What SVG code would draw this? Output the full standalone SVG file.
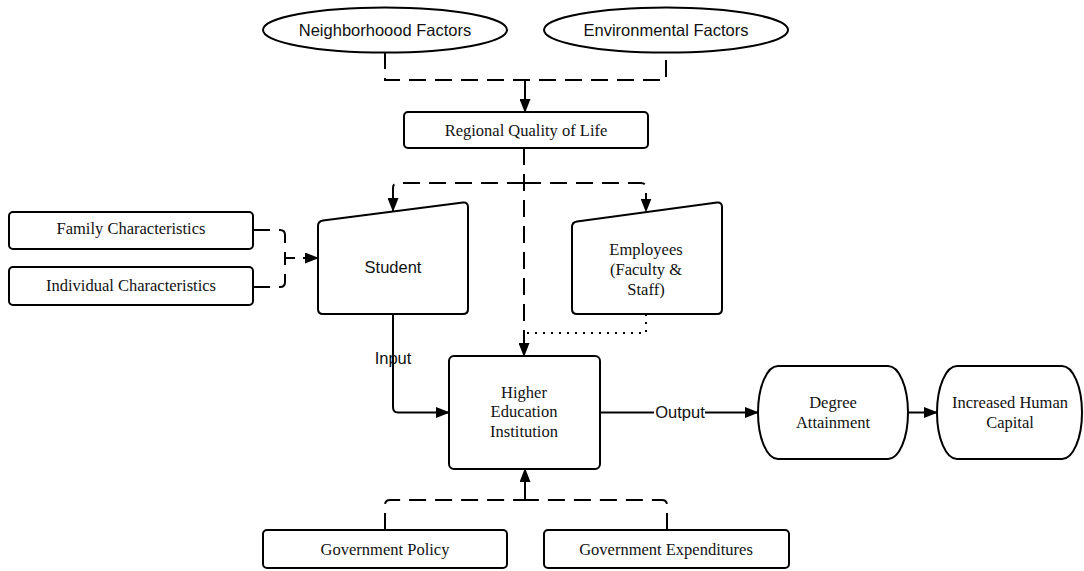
<svg xmlns="http://www.w3.org/2000/svg" width="1084" height="571" viewBox="0 0 1084 571">
<style>
.shape{fill:#fff;stroke:#000;stroke-width:2}
.sans{font-family:"Liberation Sans",Arial,sans-serif;font-size:16.5px;fill:#111;text-anchor:middle}
.serif{font-family:"Liberation Serif","Times New Roman",serif;font-size:16.5px;fill:#111;text-anchor:middle}
.ln{fill:none;stroke:#000;stroke-width:2}
.dash{stroke-dasharray:17 9}
.dot{stroke-dasharray:2 6}
</style>
<defs>
<marker id="arr" markerUnits="userSpaceOnUse" markerWidth="14" markerHeight="11" viewBox="0 0 14 11" refX="13" refY="5.5" orient="auto">
<path d="M0,0 L14,5.5 L0,11 Z" fill="#000"/>
</marker>
</defs>
<rect width="1084" height="571" fill="#fff"/>
<g id="connectors">
<path class="ln dash" d="M385,52 V80 H666 V52"/>
<path class="ln" d="M525,80 V112" marker-end="url(#arr)"/>
<path class="ln dash" d="M524,148 V356" marker-end="url(#arr)"/>
<path class="ln dash" d="M524,183 H398 Q393,183 393,188 V211" marker-end="url(#arr)"/>
<path class="ln dash" d="M524,183 H641 Q646,183 646,188 V211.5" marker-end="url(#arr)"/>
<path class="ln dash" d="M253,230 H280 Q285,230 285,235 V258"/>
<path class="ln dash" d="M253,287 H280 Q285,287 285,282 V258"/>
<path class="ln" style="stroke-dasharray:10 8" d="M285,258 H318" marker-end="url(#arr)"/>
<path class="ln" d="M393,314 V407 Q393,412.5 398,412.5 H449" marker-end="url(#arr)"/>
<path class="ln dot" d="M646,314 V333 H526"/>
<path class="ln" d="M600,412.5 H758" marker-end="url(#arr)"/>
<rect x="654" y="402" width="51" height="21" fill="#fff"/>
<text class="sans" x="680" y="418">Output</text>
<text class="sans" x="393" y="364">Input</text>
<path class="ln" d="M908,412.5 H937" marker-end="url(#arr)"/>
<path class="ln dash" d="M385,530 V505 Q385,500 390,500 H525"/>
<path class="ln dash" d="M667,530 V505 Q667,500 662,500 H525"/>
<path class="ln" d="M525,500 V469" marker-end="url(#arr)"/>
</g>
<g id="neighborhood">
<ellipse class="shape" cx="385" cy="30" rx="122" ry="22.5"/>
<text class="sans" x="385" y="36">Neighborhoood Factors</text>
</g>
<g id="environmental">
<ellipse class="shape" cx="666" cy="30" rx="122" ry="22.5"/>
<text class="sans" x="666" y="36">Environmental Factors</text>
</g>
<g id="regional">
<rect class="shape" x="404" y="112" width="244" height="36" rx="4"/>
<text class="serif" x="526" y="136">Regional Quality of Life</text>
</g>
<g id="family">
<rect class="shape" x="9" y="212" width="244" height="37" rx="4"/>
<text class="serif" x="131" y="234">Family Characteristics</text>
</g>
<g id="individual">
<rect class="shape" x="9" y="267" width="244" height="38" rx="4"/>
<text class="serif" x="131" y="291">Individual Characteristics</text>
</g>
<g id="student">
<path class="shape" d="M318,226 Q318,221 323,220.4 L463,202.6 Q468,202 468,207 V309 Q468,314 463,314 H323 Q318,314 318,309 Z"/>
<text class="sans" x="393" y="273">Student</text>
</g>
<g id="employees">
<path class="shape" d="M572,227 Q572,222 577,221.4 L717,202.6 Q722,202 722,207 V309 Q722,314 717,314 H577 Q572,314 572,309 Z"/>
<text class="serif" x="646" y="255">Employees</text>
<text class="serif" x="646" y="275">(Faculty &amp;</text>
<text class="serif" x="646" y="295">Staff)</text>
</g>
<g id="hei">
<rect class="shape" x="449" y="356" width="151" height="113" rx="5"/>
<text class="serif" x="524" y="397.5">Higher</text>
<text class="serif" x="524" y="417">Education</text>
<text class="serif" x="524" y="436.5">Institution</text>
</g>
<g id="degree">
<path class="shape" d="M778,366 H888 A20,46.5 0 0 1 888,459 H778 A20,46.5 0 0 1 778,366 Z"/>
<text class="serif" x="833" y="408">Degree</text>
<text class="serif" x="833" y="428">Attainment</text>
</g>
<g id="capital">
<path class="shape" d="M957,366 H1062 A20,46.5 0 0 1 1062,459 H957 A20,46.5 0 0 1 957,366 Z"/>
<text class="serif" x="1010" y="408">Increased Human</text>
<text class="serif" x="1010" y="428">Capital</text>
</g>
<g id="policy">
<rect class="shape" x="263" y="530" width="244" height="38" rx="4"/>
<text class="serif" x="385" y="555">Government Policy</text>
</g>
<g id="expenditures">
<rect class="shape" x="544" y="530" width="245" height="38" rx="4"/>
<text class="serif" x="666" y="555">Government Expenditures</text>
</g>
</svg>
